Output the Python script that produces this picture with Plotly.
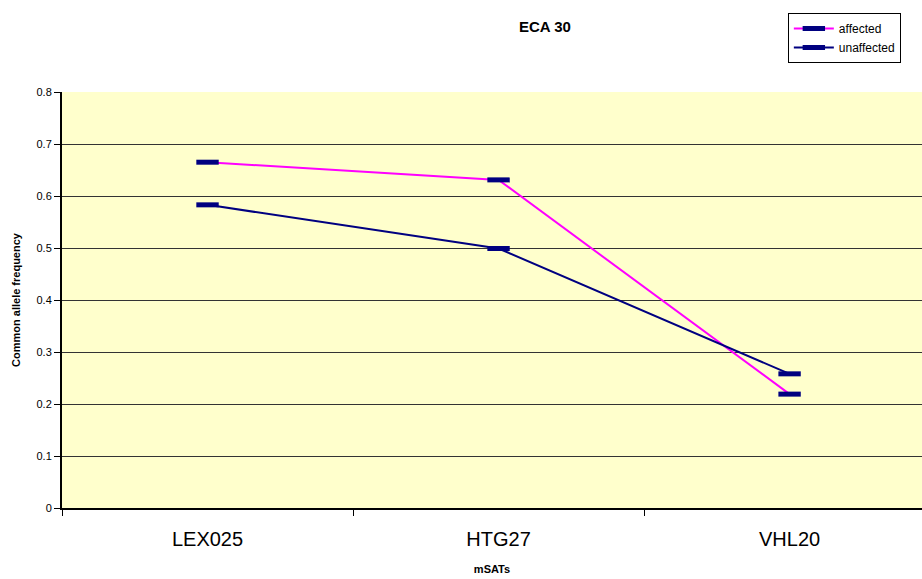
import plotly.graph_objects as go

markers = ["LEX025", "HTG27", "VHL20"]
affected = [0.665, 0.631, 0.219]
unaffected = [0.583, 0.499, 0.258]

fig = go.Figure()

fig.add_trace(go.Scatter(
    x=markers, y=affected, name="affected", mode="lines+markers",
    line=dict(color="#FF00FF", width=2),
    marker=dict(symbol="line-ew", size=16, line=dict(color="#000080", width=5)),
))
fig.add_trace(go.Scatter(
    x=markers, y=unaffected, name="unaffected", mode="lines+markers",
    line=dict(color="#000080", width=2),
    marker=dict(symbol="line-ew", size=16, line=dict(color="#000080", width=5)),
))

fig.update_layout(
    width=922, height=579,
    margin=dict(l=62, r=0, t=92, b=71),
    paper_bgcolor="white",
    plot_bgcolor="#FFFFCC",
    font=dict(family="Liberation Sans, Arial, sans-serif", color="black"),
    title=dict(text="<b>ECA 30</b>", x=0.591, xanchor="center", y=0.953, yanchor="middle",
               font=dict(size=15)),
    xaxis=dict(
        type="category", range=[-0.5, 2.455], tickson="boundaries",
        ticks="outside", ticklen=6, tickcolor="black", ticklabelstandoff=12,
        showline=True, linecolor="black", linewidth=2, showgrid=False,
        tickfont=dict(size=20), title=dict(text="<b>mSATs</b>", font=dict(size=11), standoff=16),
    ),
    yaxis=dict(
        range=[0, 0.8], dtick=0.1, ticks="outside", ticklen=6, tickcolor="black",
        showline=True, linecolor="black", linewidth=2, mirror=False,
        showgrid=True, gridcolor="#333333", gridwidth=1, zeroline=False,
        tickfont=dict(size=11), title=dict(text="<b>Common allele frequency</b>", font=dict(size=11), standoff=14),
    ),
    legend=dict(
        x=0.844, y=1.19, xanchor="left", yanchor="top",
        bordercolor="black", borderwidth=1, bgcolor="white",
        font=dict(size=12), tracegroupgap=4, itemwidth=40,
    ),
)

fig.write_html("out.html", config={"displayModeBar": False},
               post_script="document.body.style.margin='0';")
